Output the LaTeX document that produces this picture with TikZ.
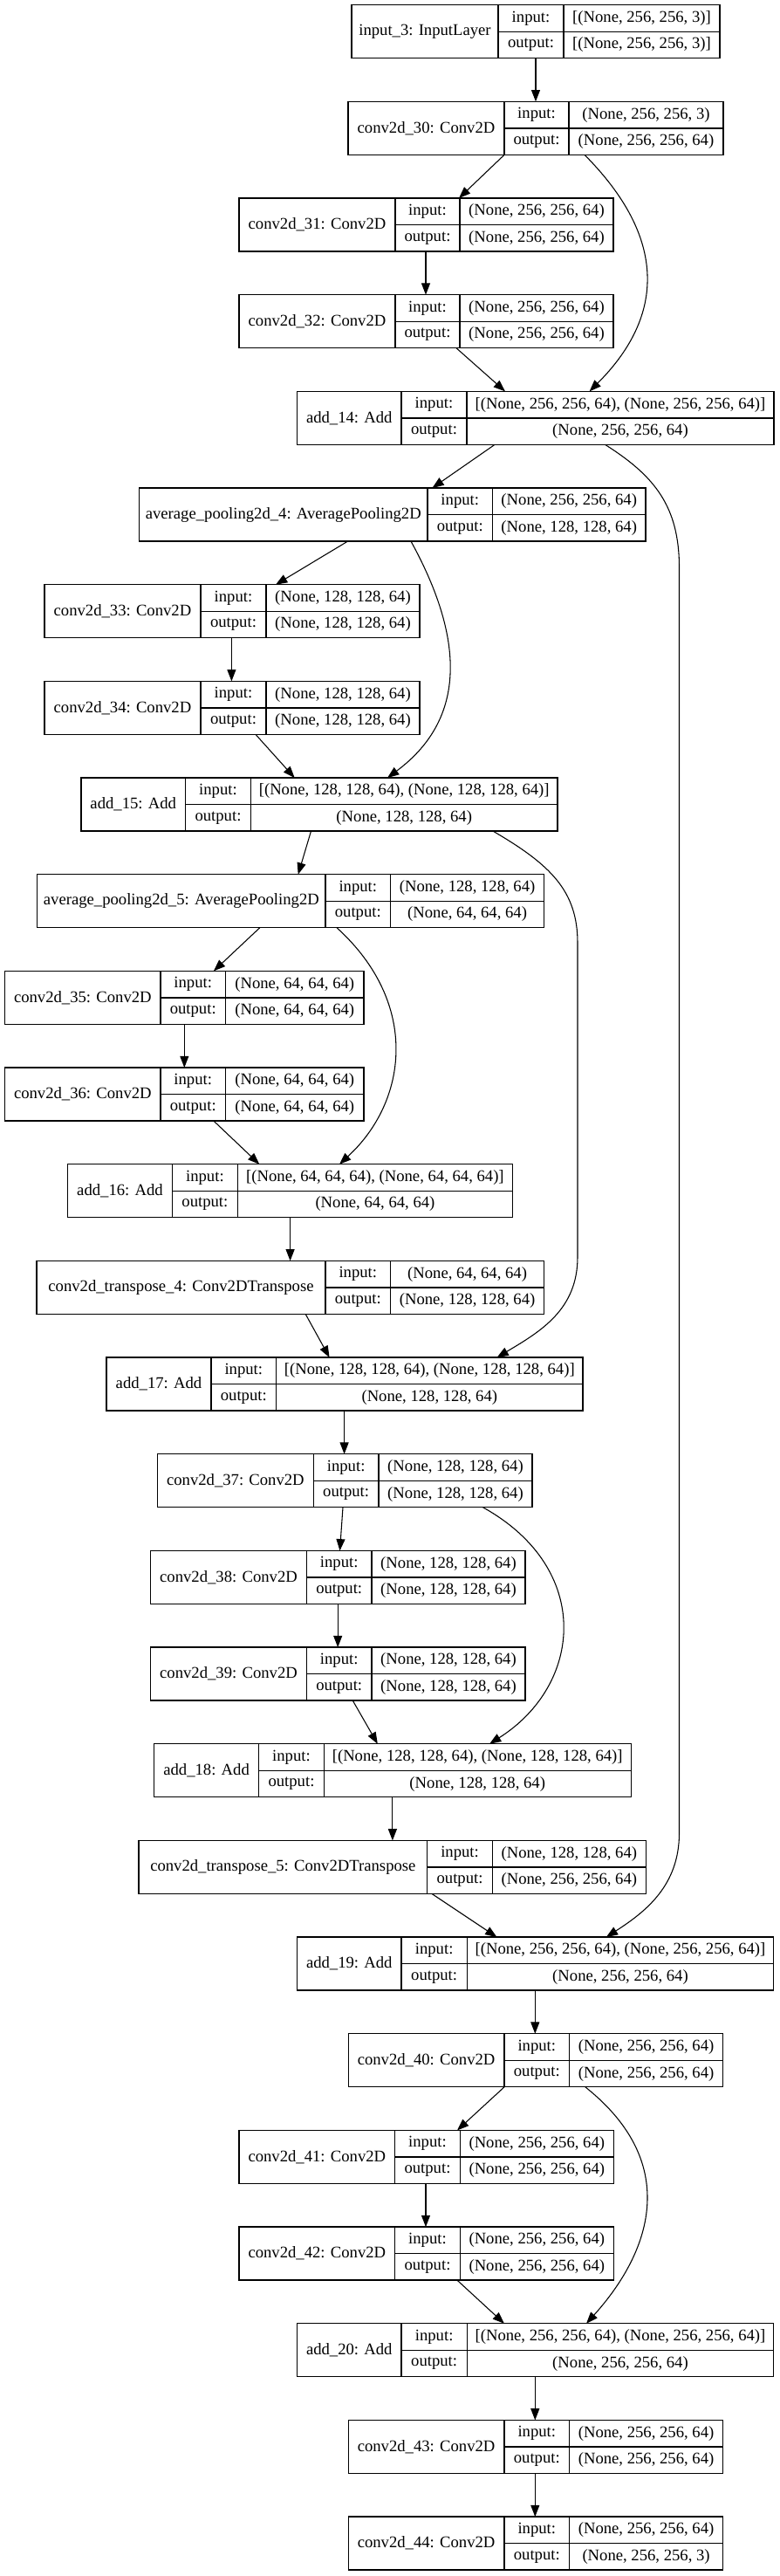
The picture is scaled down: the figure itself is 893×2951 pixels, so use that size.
\documentclass[tikz,border=0pt]{standalone}
\usepackage{fontspec}
\setmainfont{Liberation Serif}
\usetikzlibrary{arrows.meta}
\newcommand{\layerbox}[9]{%
 \node[namecell,minimum width={(#3-#2)*0.75pt}] (#1) at (#2,{5.7+#6*110.67}) {#7};
 \node[tagcell,minimum width={(#4-#3)*0.75pt}] (#1-it) at (#3,{5.7+#6*110.67}) {input:};
 \node[tagcell,minimum width={(#4-#3)*0.75pt}] (#1-ot) at (#3,{36.2+#6*110.67}) {output:};
 \node[tagcell,minimum width={(#5-#4)*0.75pt}] (#1-iv) at (#4,{5.7+#6*110.67}) {#8};
 \node[tagcell,minimum width={(#5-#4)*0.75pt}] (#1-ov) at (#4,{36.2+#6*110.67}) {#9};}

\begin{document}
\begin{tikzpicture}[x=0.75pt,y=-0.75pt,font=\fontsize{14}{16}\selectfont,
namecell/.style={draw,line width=1pt,anchor=north west,inner sep=0pt,outer sep=0pt,minimum height=45.75pt},
tagcell/.style={draw,line width=1pt,anchor=north west,inner sep=0pt,outer sep=0pt,minimum height=22.875pt},
flow/.style={-{Triangle[length=10pt,width=7.5pt]},line width=.8pt}]
\useasboundingbox (0,0) rectangle (893,2951);
\layerbox{in3}{403}{571}{646}{825}{0}{input\_3: InputLayer}{[(None, 256, 256, 3)]}{[(None, 256, 256, 3)]}
\layerbox{c30}{399}{578}{652}{829}{1}{conv2d\_30: Conv2D}{(None, 256, 256, 3)}{(None, 256, 256, 64)}
\layerbox{c31}{274}{453}{527}{703}{2}{conv2d\_31: Conv2D}{(None, 256, 256, 64)}{(None, 256, 256, 64)}
\layerbox{c32}{274}{453}{527}{703}{3}{conv2d\_32: Conv2D}{(None, 256, 256, 64)}{(None, 256, 256, 64)}
\layerbox{a14}{340.5}{460}{535}{887}{4}{add\_14: Add}{[(None, 256, 256, 64), (None, 256, 256, 64)]}{(None, 256, 256, 64)}
\layerbox{ap4}{159.5}{490}{564.5}{740}{5}{average\_pooling2d\_4: AveragePooling2D}{(None, 256, 256, 64)}{(None, 128, 128, 64)}
\layerbox{c33}{51}{230}{305}{481}{6}{conv2d\_33: Conv2D}{(None, 128, 128, 64)}{(None, 128, 128, 64)}
\layerbox{c34}{51}{230}{305}{481}{7}{conv2d\_34: Conv2D}{(None, 128, 128, 64)}{(None, 128, 128, 64)}
\layerbox{a15}{93}{212.5}{287.5}{639}{8}{add\_15: Add}{[(None, 128, 128, 64), (None, 128, 128, 64)]}{(None, 128, 128, 64)}
\layerbox{ap5}{42.7}{373}{447.6}{623.6}{9}{average\_pooling2d\_5: AveragePooling2D}{(None, 128, 128, 64)}{(None, 64, 64, 64)}
\layerbox{c35}{5.7}{184}{258.5}{417}{10}{conv2d\_35: Conv2D}{(None, 64, 64, 64)}{(None, 64, 64, 64)}
\layerbox{c36}{5.7}{184}{258.5}{417}{11}{conv2d\_36: Conv2D}{(None, 64, 64, 64)}{(None, 64, 64, 64)}
\layerbox{a16}{77.4}{197.6}{272.2}{587.7}{12}{add\_16: Add}{[(None, 64, 64, 64), (None, 64, 64, 64)]}{(None, 64, 64, 64)}
\layerbox{ct4}{42}{373}{447.6}{623.6}{13}{conv2d\_transpose\_4: Conv2DTranspose}{(None, 64, 64, 64)}{(None, 128, 128, 64)}
\layerbox{a17}{122}{242}{316.6}{668}{14}{add\_17: Add}{[(None, 128, 128, 64), (None, 128, 128, 64)]}{(None, 128, 128, 64)}
\layerbox{c37}{180.5}{359.3}{434}{610}{15}{conv2d\_37: Conv2D}{(None, 128, 128, 64)}{(None, 128, 128, 64)}
\layerbox{c38}{172.6}{351.4}{426}{602}{16}{conv2d\_38: Conv2D}{(None, 128, 128, 64)}{(None, 128, 128, 64)}
\layerbox{c39}{172.6}{351.4}{426}{602}{17}{conv2d\_39: Conv2D}{(None, 128, 128, 64)}{(None, 128, 128, 64)}
\layerbox{a18}{176.5}{296.7}{371.3}{723.2}{18}{add\_18: Add}{[(None, 128, 128, 64), (None, 128, 128, 64)]}{(None, 128, 128, 64)}
\layerbox{ct5}{159}{489.7}{564.4}{740.3}{19}{conv2d\_transpose\_5: Conv2DTranspose}{(None, 128, 128, 64)}{(None, 256, 256, 64)}
\layerbox{a19}{340.5}{460}{535.3}{886.7}{20}{add\_19: Add}{[(None, 256, 256, 64), (None, 256, 256, 64)]}{(None, 256, 256, 64)}
\layerbox{c40}{399.2}{578}{652.6}{828.6}{21}{conv2d\_40: Conv2D}{(None, 256, 256, 64)}{(None, 256, 256, 64)}
\layerbox{c41}{274}{452.7}{527.3}{703.3}{22}{conv2d\_41: Conv2D}{(None, 256, 256, 64)}{(None, 256, 256, 64)}
\layerbox{c42}{274}{452.7}{527.3}{703.3}{23}{conv2d\_42: Conv2D}{(None, 256, 256, 64)}{(None, 256, 256, 64)}
\layerbox{a20}{340.5}{460}{535.3}{886.7}{24}{add\_20: Add}{[(None, 256, 256, 64), (None, 256, 256, 64)]}{(None, 256, 256, 64)}
\layerbox{c43}{399.2}{578}{652.6}{828.6}{25}{conv2d\_43: Conv2D}{(None, 256, 256, 64)}{(None, 256, 256, 64)}
\layerbox{c44}{399.2}{578}{652.6}{828.6}{26}{conv2d\_44: Conv2D}{(None, 256, 256, 64)}{(None, 256, 256, 3)}
\draw[flow] (in3.south -| 614,0)--(c30.north -| 614,0);
\draw[flow] (c30.south -| 578,0)--(c31.north -| 526,0);
\draw[flow] (c31.south -| 488,0)--(c32.north -| 488,0);
\draw[flow] (c32.south -| 523,0)--(a14.north -| 579,0);
\draw[flow] (c30.south -| 670,0) .. controls (764,272) and (763,361) .. (a14.north -| 675.6,0);
\draw[flow] (a14.south -| 567,0)--(ap4.north -| 495.4,0);
\draw[flow] (a14.south -| 693.6,0) .. controls (750,545) and (778.5,580) .. (778.5,650)
 -- (778.5,2100) .. controls (778.5,2160) and (740,2190) .. (a19.north -| 694.8,0);
\draw[flow] (ap4.south -| 398.6,0)--(c33.north -| 316,0);
\draw[flow] (c33.south -| 265.4,0)--(c34.north -| 265.4,0);
\draw[flow] (ap4.south -| 471,0) .. controls (527,722) and (541,819) .. (a15.north -| 444,0);
\draw[flow] (c34.south -| 293,0)--(a15.north -| 337.7,0);
\draw[flow] (a15.south -| 356.5,0)--(ap5.north -| 341.7,0);
\draw[flow] (a15.south -| 565,0) .. controls (630,990) and (662,1020) .. (662,1080)
 -- (662,1440) .. controls (662,1500) and (620,1525) .. (a17.north -| 569.5,0);
\draw[flow] (ap5.south -| 297.8,0)--(c35.north -| 244.9,0);
\draw[flow] (c35.south -| 211.3,0)--(c36.north -| 211.3,0);
\draw[flow] (ap5.south -| 386,0) .. controls (482,1150) and (467,1262) .. (a16.north -| 389,0);
\draw[flow] (c36.south -| 244.9,0)--(a16.north -| 297.3,0);
\draw[flow] (a16.south -| 332.6,0)--(ct4.north -| 332.6,0);
\draw[flow] (ct4.south -| 350.2,0)--(a17.north -| 377.6,0);
\draw[flow] (a17.south -| 394.6,0)--(c37.north -| 394.6,0);
\draw[flow] (c37.south -| 393,0)--(c38.north -| 389.5,0);
\draw[flow] (c38.south -| 387.2,0)--(c39.north -| 387.2,0);
\draw[flow] (c37.south -| 553.5,0) .. controls (680,1797) and (668,1930) .. (a18.north -| 561,0);
\draw[flow] (c39.south -| 404.3,0)--(a18.north -| 432.8,0);
\draw[flow] (a18.south -| 449.9,0)--(ct5.north -| 449.9,0);
\draw[flow] (ct5.south -| 495,0)--(a19.north -| 569.5,0);
\draw[flow] (a19.south -| 613.3,0)--(c40.north -| 613.3,0);
\draw[flow] (c40.south -| 578,0)--(c41.north -| 524,0);
\draw[flow] (c41.south -| 488,0)--(c42.north -| 488,0);
\draw[flow] (c40.south -| 670.8,0) .. controls (783,2480) and (744,2582) .. (a20.north -| 672,0);
\draw[flow] (c42.south -| 524,0)--(a20.north -| 578,0);
\draw[flow] (a20.south -| 613.3,0)--(c43.north -| 613.3,0);
\draw[flow] (c43.south -| 613.3,0)--(c44.north -| 613.3,0);
\end{tikzpicture}
\end{document}
